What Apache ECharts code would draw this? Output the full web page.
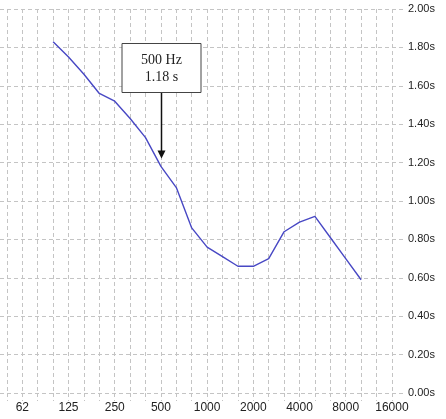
<!DOCTYPE html>
<html>
<head>
<meta charset="utf-8">
<script src="https://cdn.jsdelivr.net/npm/echarts@6/dist/echarts.min.js"></script>
<style>
html,body{margin:0;padding:0;background:#fff;}
#chart{width:446px;height:419px;}
</style>
</head>
<body>
<div id="chart"></div>
<script>
// Third-octave bands shown on the frequency axis (Hz)
const bandLabels = ['50','63','80','100','125','160','200','250','315','400','500','630','800',
  '1000','1250','1600','2000','2500','3150','4000','5000','6300','8000','10000','12500','16000'];
// Octave tick labels and the band each sits on
const tickBands = ['63','125','250','500','1000','2000','4000','8000','16000'];
const tickLabels = ['62','125','250','500','1000','2000','4000','8000','16000'];
// Reverberation time per band (s)
const rtBands = ['100','125','160','200','250','315','400','500','630','800','1000','1250',
  '1600','2000','2500','3150','4000','5000','6300','8000','10000'];
const rtValues = [1.83,1.75,1.66,1.56,1.52,1.43,1.33,1.18,1.07,0.86,0.76,0.71,
  0.66,0.66,0.70,0.84,0.89,0.92,0.81,0.70,0.59];
// Y tick values
const yTicks = [0,0.2,0.4,0.6,0.8,1.0,1.2,1.4,1.6,1.8,2.0];
// Annotation
const annotBand = '500';
const annotValue = 1.18;
const annotLines = ['500 Hz', '1.18 s'];

const bandIdx = b => bandLabels.indexOf(b);
const seriesData = rtBands.map((b, k) => [bandIdx(b), rtValues[k]]);
const tickIdx = tickBands.map(bandIdx);
const allIdx = bandLabels.map((b, i) => i);

const gridColor = '#c4c4c4';
const chart = echarts.init(document.getElementById('chart'), null, {renderer: 'canvas'});
chart.setOption({
  animation: false,
  backgroundColor: '#fff',
  grid: {left: 0, top: 9, width: 405, height: 384, containLabel: false},
  xAxis: {
    type: 'value', min: -0.45, max: 25.85,
    axisLine: {show: false},
    axisTick: {show: true, customValues: allIdx, length: 8, inside: false,
      lineStyle: {color: gridColor, type: [4, 3]}},
    axisLabel: {show: true, customValues: tickIdx, margin: 9,
      fontFamily: 'Liberation Sans', fontSize: 12, color: '#222',
      formatter: v => tickLabels[tickIdx.indexOf(Math.round(v))] || ''},
    splitLine: {show: true, lineStyle: {color: gridColor, type: [4, 3], width: 1}}
  },
  yAxis: {
    type: 'value', position: 'right', min: 0, max: 2, interval: 0.2,
    axisLine: {show: false}, axisTick: {show: false},
    axisLabel: {margin: 3, fontFamily: 'Liberation Sans', fontSize: 11, color: '#222',
      formatter: v => v.toFixed(2) + 's'},
    splitLine: {show: true, lineStyle: {color: gridColor, type: [4, 3], width: 1}}
  },
  series: [{
    type: 'line', data: seriesData, symbol: 'none', z: 3,
    lineStyle: {color: '#4848c4', width: 1.4}
  }]
});

// Annotation positioned from the data point via the chart's own scales
const p = chart.convertToPixel({gridIndex: 0}, [bandIdx(annotBand), annotValue]);
const ax = Math.round(p[0]) + 0.5;
const boxW = 79, boxH = 49, boxTop = 43;
const tipY = p[1] - 8;
chart.setOption({
  graphic: [
    {type: 'line', z: 10, shape: {x1: ax, y1: boxTop + boxH, x2: ax, y2: tipY - 6},
      style: {stroke: '#111', lineWidth: 1.5}},
    {type: 'polygon', z: 10, shape: {points: [[ax - 4, tipY - 8], [ax + 4, tipY - 8], [ax, tipY]]},
      style: {fill: '#111'}},
    {type: 'rect', z: 11, shape: {x: ax - boxW / 2, y: boxTop + 0.5, width: boxW, height: boxH},
      style: {fill: '#fff', stroke: '#444', lineWidth: 1}},
    {type: 'text', z: 12, x: ax, y: boxTop + 17,
      style: {text: annotLines[0], fontFamily: 'Liberation Serif', fontSize: 14, fill: '#222',
        align: 'center', verticalAlign: 'middle'}},
    {type: 'text', z: 12, x: ax, y: boxTop + 34,
      style: {text: annotLines[1], fontFamily: 'Liberation Serif', fontSize: 14, fill: '#222',
        align: 'center', verticalAlign: 'middle'}}
  ]
});
</script>
</body>
</html>
